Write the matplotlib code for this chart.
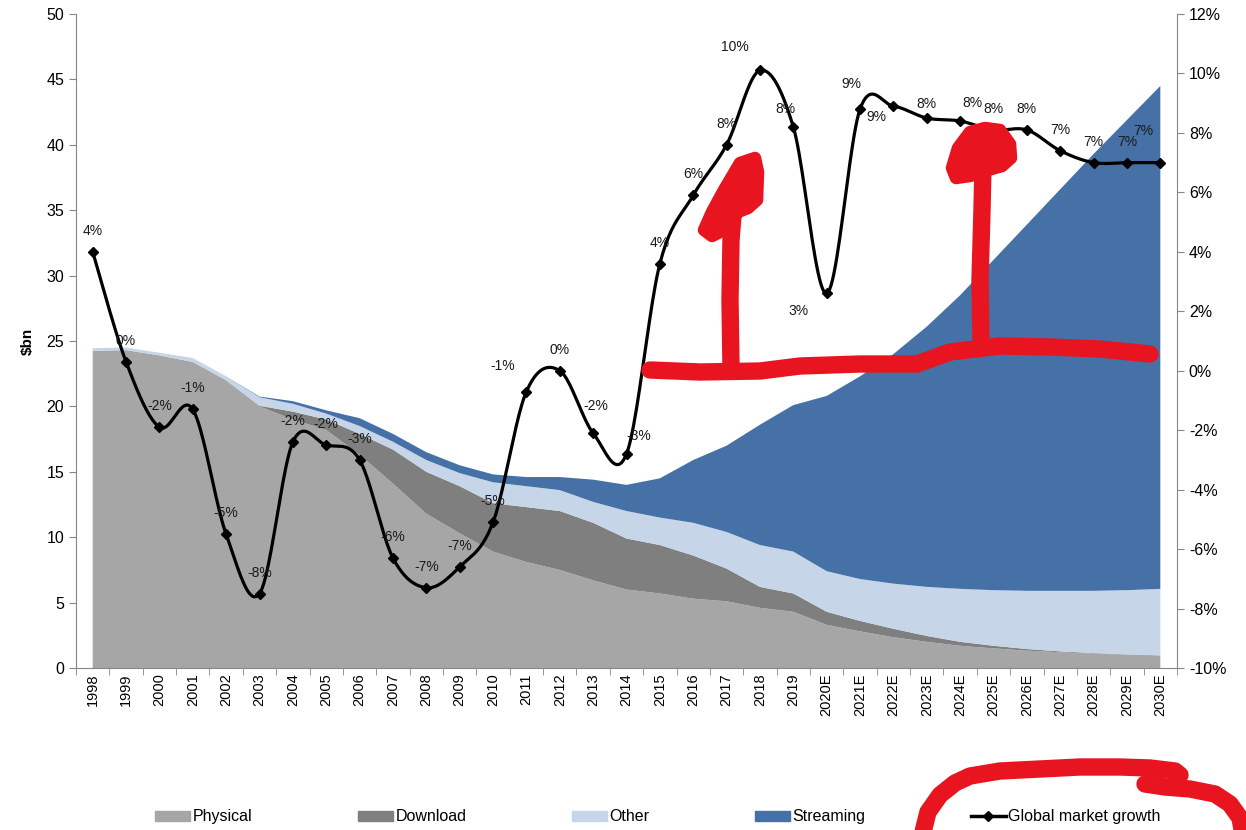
import numpy as np
import matplotlib.pyplot as plt
from matplotlib.patches import Patch
from matplotlib.lines import Line2D

plt.rcParams['font.family'] = ['Liberation Sans', 'DejaVu Sans']

years = ['1998', '1999', '2000', '2001', '2002', '2003', '2004', '2005', '2006', '2007',
         '2008', '2009', '2010', '2011', '2012', '2013', '2014', '2015', '2016', '2017',
         '2018', '2019', '2020E', '2021E', '2022E', '2023E', '2024E', '2025E', '2026E',
         '2027E', '2028E', '2029E', '2030E']

# $bn, stacked
physical = [24.25, 24.3, 23.9, 23.4, 22.0, 20.0, 19.0, 18.2, 16.3, 14.1, 11.8, 10.3, 8.9,
            8.1, 7.5, 6.7, 6.0, 5.7, 5.3, 5.1, 4.6, 4.3, 3.3, 2.8, 2.35, 2.0, 1.7, 1.5,
            1.33, 1.2, 1.1, 1.02, 0.96]
download = [0, 0, 0, 0, 0, 0.05, 0.6, 0.8, 1.6, 2.6, 3.2, 3.6, 3.7, 4.2, 4.5, 4.4, 3.9,
            3.7, 3.3, 2.5, 1.6, 1.4, 1.0, 0.8, 0.65, 0.45, 0.3, 0.2, 0.12, 0.07, 0.04,
            0.02, 0.01]
other = [0.2, 0.2, 0.2, 0.3, 0.3, 0.65, 0.6, 0.45, 0.6, 0.6, 0.9, 1.0, 1.6, 1.6, 1.6, 1.6,
         2.1, 2.1, 2.5, 2.8, 3.2, 3.2, 3.1, 3.2, 3.45, 3.75, 4.05, 4.25, 4.45, 4.63, 4.76,
         4.91, 5.08]
streaming = [0, 0, 0, 0, 0, 0.05, 0.2, 0.25, 0.6, 0.6, 0.6, 0.6, 0.6, 0.7, 1.0, 1.7, 2.0,
             3.0, 4.8, 6.6, 9.2, 11.2, 13.4, 15.5, 17.55, 19.9, 22.45, 25.25, 28.0, 30.7,
             33.4, 35.95, 38.45]

# global market growth, %
growth = [4.0, 0.3, -1.9, -1.3, -5.5, -7.5, -2.4, -2.5, -3.0, -6.3, -7.3, -6.6, -5.1, -0.7,
          0.0, -2.1, -2.8, 3.6, 5.9, 7.6, 10.1, 8.2, 2.6, 8.8, 8.9, 8.5, 8.4, 8.1, 8.1,
          7.4, 7.0, 7.0, 7.0]
growth_labels = ['4%', '0%', '-2%', '-1%', '-5%', '-8%', '-2%', '-2%', '-3%', '-6%', '-7%',
                 '-7%', '-5%', '-1%', '0%', '-2%', '-3%', '4%', '6%', '8%', '10%', '8%',
                 '3%', '9%', '9%', '8%', '8%', '8%', '8%', '7%', '7%', '7%', '7%']

# label offsets (pixels) where excel moved them off the default spot
label_offsets = {13: (-24, 26), 15: (3, 27), 16: (12, 18), 20: (-25, 23), 21: (-8, 18),
                 22: (-28, -18), 23: (-9, 25), 24: (-17, -11), 25: (0, 14), 26: (12, 18),
                 32: (-17, 32)}


def smooth(xs, ys, n=24):
    # excel style smoothed line (catmull-rom as bezier)
    xs = np.asarray(xs, float)
    ys = np.asarray(ys, float)
    px = np.concatenate([[xs[0]], xs, [xs[-1]]])
    py = np.concatenate([[ys[0]], ys, [ys[-1]]])
    outx, outy = [], []
    t = np.linspace(0, 1, n)
    for i in range(1, len(px) - 2):
        p0 = np.array([px[i - 1], py[i - 1]])
        p1 = np.array([px[i], py[i]])
        p2 = np.array([px[i + 1], py[i + 1]])
        p3 = np.array([px[i + 2], py[i + 2]])
        c1 = p1 + (p2 - p0) / 6
        c2 = p2 - (p3 - p1) / 6
        b = ((1 - t) ** 3)[:, None] * p1 + (3 * (1 - t) ** 2 * t)[:, None] * c1 \
            + (3 * (1 - t) * t ** 2)[:, None] * c2 + (t ** 3)[:, None] * p2
        outx.extend(b[:, 0])
        outy.extend(b[:, 1])
    return outx, outy


fig = plt.figure(figsize=(12.46, 8.3), dpi=100)
ax = fig.add_axes([76 / 1246, 162 / 830, 1101 / 1246, 654 / 830])
x = np.arange(len(years))

colors = ['#a6a6a6', '#7f7f7f', '#c6d5e8', '#4571a7']
ax.stackplot(x, physical, download, other, streaming, colors=colors, linewidth=0)

ax.set_xlim(-0.5, len(years) - 0.5)
ax.set_ylim(0, 50)
ax.set_yticks(range(0, 51, 5))
ax.set_xticks(x)
ax.set_xticklabels(years, rotation=90, fontsize=10.5)
ax.set_xticks(np.arange(-0.5, len(years)), minor=True)
ax.tick_params(axis='x', which='major', length=0, pad=4)
ax.tick_params(axis='x', which='minor', length=5, color='#868686')
ax.tick_params(axis='y', length=5, color='#868686', labelsize=11.5)
ax.set_ylabel('$bn', fontsize=11, fontweight='bold', labelpad=8)
for s in ['top', 'right']:
    ax.spines[s].set_visible(False)
for s in ['left', 'bottom']:
    ax.spines[s].set_color('#868686')

ax2 = ax.twinx()
ax2.set_ylim(-10, 12)
ax2.set_yticks(range(-10, 13, 2))
ax2.set_yticklabels([f'{v}%' for v in range(-10, 13, 2)])
ax2.tick_params(axis='y', length=5, color='#868686', labelsize=11.5)
for s in ['top', 'left', 'bottom']:
    ax2.spines[s].set_visible(False)
ax2.spines['right'].set_color('#868686')

sx, sy = smooth(x, growth)
ax2.plot(sx, sy, color='black', lw=2.3, solid_capstyle='round')
ax2.plot(x, growth, linestyle='none', marker='D', color='black', markersize=5.5)
for i, (v, lab) in enumerate(zip(growth, growth_labels)):
    dx, dy = label_offsets.get(i, (0, 21))
    ax2.annotate(lab, (x[i], v), xytext=(dx, dy), textcoords='offset pixels',
                 ha='center', va='center', fontsize=10, color='#1a1a1a')

handles = [Patch(color=colors[0]), Patch(color=colors[1]), Patch(color=colors[2]),
           Patch(color=colors[3]),
           Line2D([], [], color='black', lw=2.5, marker='D', markersize=5)]
names = ['Physical', 'Download', 'Other', 'Streaming', 'Global market growth']
fig.legend(handles, names, loc='center', bbox_to_anchor=(0.528, 0.016), ncol=5,
           frameon=False, fontsize=11.5, handlelength=2.2, handleheight=0.6,
           handletextpad=0.15, columnspacing=6.6)

# red hand drawn marks on top (pixel coords of the figure)
ov = fig.add_axes([0, 0, 1, 1], zorder=10)
ov.set_xlim(0, 1246)
ov.set_ylim(830, 0)
ov.axis('off')
red = '#e8141f'
kw = dict(color=red, lw=12.5, solid_capstyle='round', solid_joinstyle='round')
# horizontal stroke
ov.plot([650, 700, 760, 800, 860, 917, 950, 1000, 1050, 1100, 1150],
        [370, 372, 371, 366, 364, 364, 352, 346, 347, 349, 354], **kw)
# left arrow
ov.plot([731, 730, 731, 733], [368, 300, 240, 215], **kw)
head1_x = [704, 712, 724, 740, 755, 758, 757, 748, 738, 728, 712]
head1_y = [230, 212, 190, 163, 158, 172, 200, 208, 212, 228, 236]
ov.fill(head1_x, head1_y, color=red, lw=9, joinstyle='round')
# right arrow
ov.plot([981, 980, 982, 983], [342, 280, 210, 165], **kw)
head2_x = [952, 958, 970, 985, 1000, 1010, 1011, 1002, 988, 970, 956]
head2_y = [168, 148, 132, 128, 130, 144, 158, 166, 170, 176, 178]
ov.fill(head2_x, head2_y, color=red, lw=9, joinstyle='round')
# circle around the growth legend entry
ov.plot([921, 928, 940, 955, 970, 1000, 1040, 1080, 1120, 1150, 1175, 1180],
        [840, 812, 795, 783, 776, 771, 769, 767, 767, 768, 771, 775], **kw)
ov.plot([1145, 1165, 1190, 1215, 1230, 1240, 1244],
        [784, 787, 789, 794, 804, 818, 840], **kw)

fig.savefig('out.png', dpi=100)
